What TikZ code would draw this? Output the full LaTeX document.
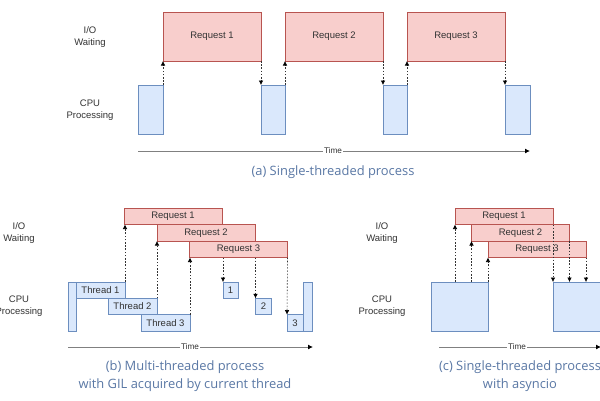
\documentclass[tikz,border=0pt]{standalone}
\usepackage{fontspec}
\setmainfont{Liberation Sans}
\newfontfamily\capfont{Open Sans}
\usetikzlibrary{arrows.meta}
\definecolor{reqfill}{HTML}{F8CECC}
\definecolor{reqdraw}{HTML}{B85450}
\definecolor{cpufill}{HTML}{DAE8FC}
\definecolor{cpudraw}{HTML}{6C8EBF}
\definecolor{txt}{HTML}{333333}
\definecolor{capcol}{RGB}{90,120,165}
\definecolor{axiscol}{HTML}{808080}
\tikzset{
  base/.style={rectangle, inner sep=0pt, outer sep=0pt, line width=0.8pt, text=txt,
    font=\fontsize{9.5}{12}\selectfont},
  reqbox/.style={base, fill=reqfill, draw=reqdraw},
  cpubox/.style={base, fill=cpufill, draw=cpudraw},
  lbl/.style={text=txt, align=center, font=\fontsize{9.5}{12}\selectfont, inner sep=0pt},
  captxt/.style={text=capcol, align=center, font=\capfont\fontsize{12.9}{18}\selectfont, inner sep=0pt},
  flow/.style={draw=txt, line width=0.6pt, dash pattern=on 1.6pt off 1.6pt,
    -{Latex[length=4.5pt,width=4.5pt,fill=black,color=black]}},
  axis/.style={draw=axiscol, line width=0.9pt, -{Latex[length=5pt,width=5pt,color=black,fill=black]}},
  tlbl/.style={fill=white, text=txt, inner sep=0.6pt, font=\fontsize{8.2}{10}\selectfont}
}
\begin{document}
\begin{tikzpicture}[x=1pt,y=-1pt]
\useasboundingbox (0,0) rectangle (600,400);
\fill[white] (0,0) rectangle (600,400);

% ---------- (a) ----------
\node[lbl] (ioa) at (90,37) {I/O\\Waiting};
\node[lbl] (cpua) at (90,110) {CPU\\Processing};
\node[reqbox, minimum width=98pt, minimum height=49pt] (ra1) at (212,36.5) {Request 1};
\node[reqbox, minimum width=98pt, minimum height=49pt] (ra2) at (334,36.5) {Request 2};
\node[reqbox, minimum width=98pt, minimum height=49pt] (ra3) at (456,36.5) {Request 3};
\node[cpubox, minimum width=25pt, minimum height=49pt] (ca1) at (150.5,109.5) {};
\node[cpubox, minimum width=24pt, minimum height=49pt] (ca2) at (273,109.5) {};
\node[cpubox, minimum width=24pt, minimum height=49pt] (ca3) at (395,109.5) {};
\node[cpubox, minimum width=25pt, minimum height=49pt] (ca4) at (517.5,109.5) {};
\draw[flow] (ca1.north east) -- (ra1.south west);
\draw[flow] (ra1.south east) -- (ca2.north west);
\draw[flow] (ca2.north east) -- (ra2.south west);
\draw[flow] (ra2.south east) -- (ca3.north west);
\draw[flow] (ca3.north east) -- (ra3.south west);
\draw[flow] (ra3.south east) -- (ca4.north west);
\coordinate (tas) at (138,151);
\coordinate (tae) at (530,151);
\draw[axis] (tas) -- (tae);
\node[tlbl] (tla) at (333,151) {Time};
\node[captxt] (capa) at (333,172) {(a) Single-threaded process};

% ---------- (b) ----------
\node[lbl] (iob) at (19,233) {I/O\\Waiting};
\node[lbl] (cpub) at (19,306) {CPU\\Processing};
\node[reqbox, minimum width=98pt, minimum height=16.5pt] (rb1) at (173,216.25) {Request 1};
\node[reqbox, minimum width=98pt, minimum height=16.5pt] (rb2) at (206,232.75) {Request 2};
\node[reqbox, minimum width=98pt, minimum height=16.5pt] (rb3) at (238.5,249.25) {Request 3};
\node[cpubox, minimum width=8pt, minimum height=49pt] (lb) at (72,306.5) {};
\node[cpubox, minimum width=49pt, minimum height=16.33pt] (t1) at (100.5,290.2) {Thread 1};
\node[cpubox, minimum width=49pt, minimum height=16.33pt] (t2) at (132.5,306.5) {Thread 2};
\node[cpubox, minimum width=49pt, minimum height=16.33pt] (t3) at (165.5,322.8) {Thread 3};
\node[cpubox, minimum width=15pt, minimum height=16.33pt] (b1) at (230.5,290.2) {1};
\node[cpubox, minimum width=16pt, minimum height=16.33pt] (b2) at (263.5,306.5) {2};
\node[cpubox, minimum width=16pt, minimum height=16.33pt] (b3) at (295,322.8) {3};
\node[cpubox, minimum width=9pt, minimum height=49pt] (rbar) at (307.5,306.5) {};
\draw[flow] (t1.north east) -- (t1.north east |- rb1.south);
\draw[flow] (t2.north east) -- (t2.north east |- rb2.south);
\draw[flow] (t3.north east) -- (t3.north east |- rb3.south);
\draw[flow] (b1.north west |- rb3.south) -- (b1.north west);
\draw[flow] (b2.north west |- rb3.south) -- (b2.north west);
\draw[flow] (rb3.south east) -- (b3.north west);
\coordinate (tbs) at (68,347);
\coordinate (tbe) at (313,347);
\draw[axis] (tbs) -- (tbe);
\node[tlbl] (tlb) at (190,347) {Time};
\node[captxt] (capb) at (185,376) {(b) Multi-threaded process\\with GIL acquired by current thread};

% ---------- (c) ----------
\node[lbl] (ioc) at (382,233) {I/O\\Waiting};
\node[lbl] (cpuc) at (382,306) {CPU\\Processing};
\node[reqbox, minimum width=98pt, minimum height=16.5pt] (rc1) at (504,216.25) {Request 1};
\node[reqbox, minimum width=98pt, minimum height=16.5pt] (rc2) at (520.5,232.75) {Request 2};
\node[reqbox, minimum width=98pt, minimum height=16.5pt] (rc3) at (537,249.25) {Request 3};
\node[cpubox, minimum width=57pt, minimum height=49pt] (cc1) at (459.5,306.5) {};
\node[cpubox, minimum width=57pt, minimum height=49pt] (cc2) at (581.5,306.5) {};
\draw[flow] (rc1.south west |- cc1.north) -- (rc1.south west);
\draw[flow] (rc2.south west |- cc1.north) -- (rc2.south west);
\draw[flow] (cc1.north east) -- (rc3.south west);
\draw[flow] (rc1.south east) -- (cc2.north west);
\draw[flow] (rc2.south east) -- (rc2.south east |- cc2.north);
\draw[flow] (rc3.south east) -- (rc3.south east |- cc2.north);
\coordinate (tcs) at (439,347);
\coordinate (tce) at (601,347);
\draw[axis] (tcs) -- (tce);
\node[tlbl] (tlc) at (517,347) {Time};
\node[captxt] (capc) at (520,376) {(c) Single-threaded process\\with asyncio};
\end{tikzpicture}
\end{document}
